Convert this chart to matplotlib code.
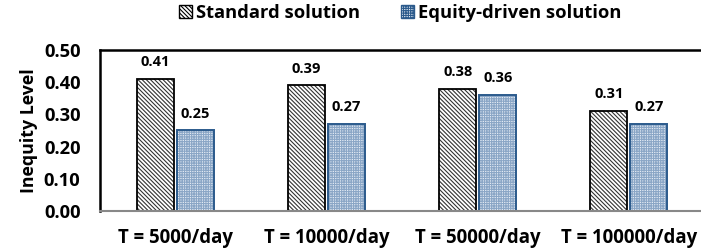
import numpy as np
import matplotlib.pyplot as plt
from matplotlib.patches import Patch

categories = ["T = 5000/day", "T = 10000/day", "T = 50000/day", "T = 100000/day"]
standard = [0.41, 0.39, 0.38, 0.31]
equity = [0.25, 0.27, 0.36, 0.27]

plt.rcParams["font.family"] = ["Open Sans", "DejaVu Sans"]
plt.rcParams["font.weight"] = "bold"
plt.rcParams["hatch.linewidth"] = 0.8

fig = plt.figure(figsize=(7.01, 2.52), dpi=100)
ax = fig.add_axes([0.1427, 0.163, 0.862, 0.639])

x = np.arange(len(categories))
w = 0.245
gap = 0.01
blue = "#2b5a8c"
std_hatch = "\\" * 8
eq_hatch = "+" * 7

# standard: white with dense diagonal hatch
ax.bar(x - w / 2 - gap, standard, w, color="white", hatch=std_hatch,
       edgecolor="#333333", linewidth=0)
ax.bar(x - w / 2 - gap, standard, w, fill=False, edgecolor="black", linewidth=1.3)
# equity: light blue with grid hatch
ax.bar(x + w / 2 + gap, equity, w, color="#e4ebf4", hatch=eq_hatch,
       edgecolor="#8aa6c6", linewidth=0)
ax.bar(x + w / 2 + gap, equity, w, fill=False, edgecolor=blue, linewidth=1.4)

for xi, v in zip(x - w / 2 - gap, standard):
    ax.annotate(f"{v:.2f}", (xi, v), xytext=(0, 7), textcoords="offset points",
                ha="center", va="bottom", fontsize=10.5, fontweight="bold")
for xi, v in zip(x + w / 2 + gap, equity):
    ax.annotate(f"{v:.2f}", (xi, v), xytext=(0, 7), textcoords="offset points",
                ha="center", va="bottom", fontsize=10.5, fontweight="bold")

ax.set_xlim(-0.5, 3.5)
ax.set_ylim(0, 0.5)
yt = np.arange(0, 0.51, 0.1)
ax.set_yticks(yt)
ax.set_yticklabels([f"{t:.2f}" for t in yt], fontsize=13.2)
ax.set_xticks(x)
ax.set_xticklabels(categories, fontsize=13.4)
ax.tick_params(axis="x", length=0, pad=12)
ax.tick_params(axis="y", length=0, pad=14)
ax.set_ylabel("Inequity Level", fontsize=12.8, fontweight="bold", labelpad=4)

for s in ["left", "top", "right"]:
    ax.spines[s].set_linewidth(1.8)
    ax.spines[s].set_color("black")
ax.spines["bottom"].set_color("#888888")
ax.spines["bottom"].set_linewidth(1.5)

handles = [
    Patch(facecolor="white", edgecolor="black", hatch=std_hatch, label="Standard solution"),
    Patch(facecolor="#e4ebf4", edgecolor=blue, hatch=eq_hatch, label="Equity-driven solution"),
]
fig.legend(handles=handles, loc="upper center", bbox_to_anchor=(0.571, 1.05), ncol=2,
           frameon=False, fontsize=13.2, handlelength=0.7, handleheight=0.7,
           handletextpad=0.25, columnspacing=2.2)

fig.savefig("out.png", dpi=100)
